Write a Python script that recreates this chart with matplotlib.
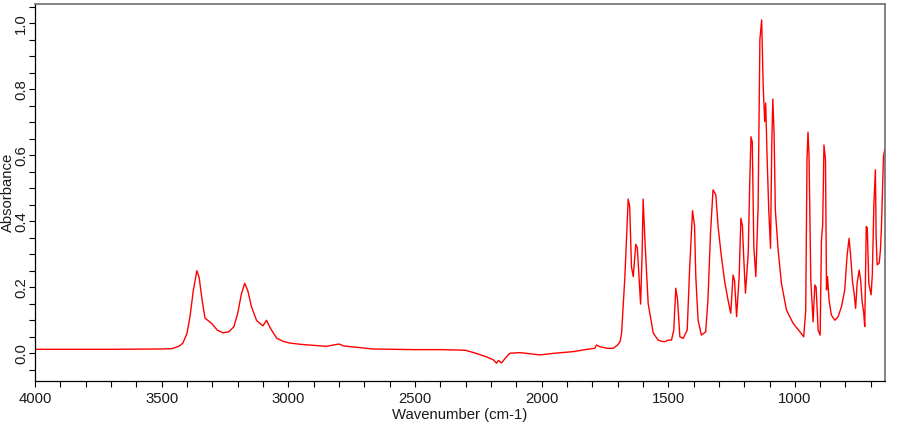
import matplotlib
matplotlib.use("Agg")
import matplotlib.pyplot as plt
from matplotlib.ticker import MultipleLocator, FormatStrFormatter

plt.rcParams['font.family'] = ['Liberation Sans', 'DejaVu Sans']

# Spectrum (wavenumber, absorbance)
wavenumber = [
    4000, 3700, 3500, 3459, 3430, 3416, 3400, 3388, 3375, 3361, 3352, 3340, 3329, 3301,
    3280, 3258, 3235, 3215, 3200, 3185, 3172, 3160, 3145, 3125, 3100, 3086, 3070, 3046,
    3020, 2994, 2950, 2915, 2850, 2800, 2780, 2666, 2500, 2400, 2336, 2300, 2260, 2217,
    2190, 2178, 2170, 2158, 2140, 2125, 2086, 2040, 2007, 1950, 1875, 1820, 1790, 1783,
    1770, 1740, 1717, 1700, 1690, 1684, 1671, 1662, 1658, 1652, 1645, 1638, 1628, 1622,
    1609, 1603, 1599, 1592, 1579, 1559, 1540, 1525, 1513, 1500, 1487, 1478, 1470, 1463,
    1454, 1441, 1425, 1415, 1404, 1396, 1391, 1382, 1369, 1352, 1343, 1333, 1323, 1312,
    1303, 1290, 1277, 1264, 1253, 1244, 1238, 1230, 1220, 1213, 1207, 1202, 1195, 1184,
    1178, 1173, 1168, 1162, 1154, 1145, 1138, 1131, 1129, 1125, 1119, 1115, 1110, 1103,
    1096, 1091, 1087, 1082, 1077, 1066, 1053, 1033, 1007, 980, 965, 957, 952, 948,
    944, 937, 928, 921, 916, 908, 900, 895, 890, 885, 879, 875, 871, 865,
    856, 842, 829, 816, 803, 794, 786, 780, 773, 766, 760, 754, 746, 740,
    735, 728, 724, 718, 714, 708, 703, 699, 694, 688, 682, 679, 675, 667,
    662, 658, 650, 645,
]
absorbance = [
    0.012, 0.012, 0.013, 0.014, 0.022, 0.031, 0.060, 0.111, 0.190, 0.250, 0.230, 0.160, 0.107, 0.089,
    0.070, 0.062, 0.065, 0.080, 0.120, 0.180, 0.212, 0.190, 0.140, 0.099, 0.083, 0.100, 0.075, 0.046,
    0.036, 0.031, 0.027, 0.025, 0.021, 0.028, 0.022, 0.013, 0.011, 0.011, 0.010, 0.009, 0.000, -0.011,
    -0.020, -0.030, -0.022, -0.029, -0.012, 0.000, 0.002, -0.002, -0.005, 0.000, 0.005, 0.012, 0.015, 0.025,
    0.020, 0.015, 0.015, 0.025, 0.035, 0.061, 0.232, 0.400, 0.467, 0.444, 0.262, 0.232, 0.330, 0.320,
    0.149, 0.300, 0.467, 0.343, 0.150, 0.061, 0.040, 0.036, 0.035, 0.040, 0.040, 0.070, 0.197, 0.162,
    0.050, 0.045, 0.070, 0.262, 0.432, 0.386, 0.232, 0.100, 0.055, 0.065, 0.162, 0.363, 0.495, 0.480,
    0.384, 0.293, 0.217, 0.162, 0.121, 0.237, 0.220, 0.111, 0.230, 0.409, 0.386, 0.293, 0.182, 0.303,
    0.520, 0.656, 0.640, 0.323, 0.232, 0.444, 0.950, 1.010, 0.940, 0.810, 0.702, 0.758, 0.606, 0.434,
    0.318, 0.636, 0.770, 0.667, 0.434, 0.313, 0.212, 0.131, 0.091, 0.065, 0.050, 0.131, 0.586, 0.670,
    0.600, 0.222, 0.095, 0.207, 0.200, 0.070, 0.055, 0.343, 0.390, 0.631, 0.586, 0.192, 0.232, 0.162,
    0.116, 0.100, 0.111, 0.141, 0.192, 0.293, 0.348, 0.300, 0.222, 0.182, 0.136, 0.212, 0.252, 0.220,
    0.162, 0.121, 0.081, 0.384, 0.380, 0.212, 0.192, 0.177, 0.240, 0.450, 0.556, 0.350, 0.268, 0.273,
    0.313, 0.384, 0.596, 0.618,
]

x_label = "Wavenumber (cm-1)"
y_label = "Absorbance"

fig = plt.figure(figsize=(9.10, 4.25), dpi=100)
ax = fig.add_axes([35 / 910, 44 / 425, 849.5 / 910, 377 / 425])

ax.plot(wavenumber, absorbance, color='#ff0000', lw=1.0)

ax.set_xlim(4000, 646)
ax.set_ylim(-0.084, 1.058)

ax.xaxis.set_major_locator(MultipleLocator(500))
ax.xaxis.set_minor_locator(MultipleLocator(100))
ax.yaxis.set_major_locator(MultipleLocator(0.2))
ax.yaxis.set_minor_locator(MultipleLocator(0.05))
ax.yaxis.set_major_formatter(FormatStrFormatter('%.1f'))

ax.tick_params(which='both', direction='out', length=4.3, width=0.8, color='black',
               labelsize=10.7, labelcolor='#1a1a1a')
ax.tick_params(axis='x', which='major', pad=3.5)
ax.tick_params(axis='y', which='major', pad=0.8, labelrotation=90)
for lab in ax.get_yticklabels():
    lab.set_va('center')

for side in ('left', 'bottom'):
    ax.spines[side].set_color('black')
    ax.spines[side].set_linewidth(0.9)
for side in ('top', 'right'):
    ax.spines[side].set_color('#6e6e6e')
    ax.spines[side].set_linewidth(1.2)

ax.set_xlabel(x_label, fontsize=10.7, color='#1a1a1a')
ax.set_ylabel(y_label, fontsize=10.7, color='#1a1a1a')
ax.xaxis.set_label_coords(0.5, -0.072)
ax.yaxis.set_label_coords(-0.0235, 0.5)

fig.savefig('out.png', dpi=100)
